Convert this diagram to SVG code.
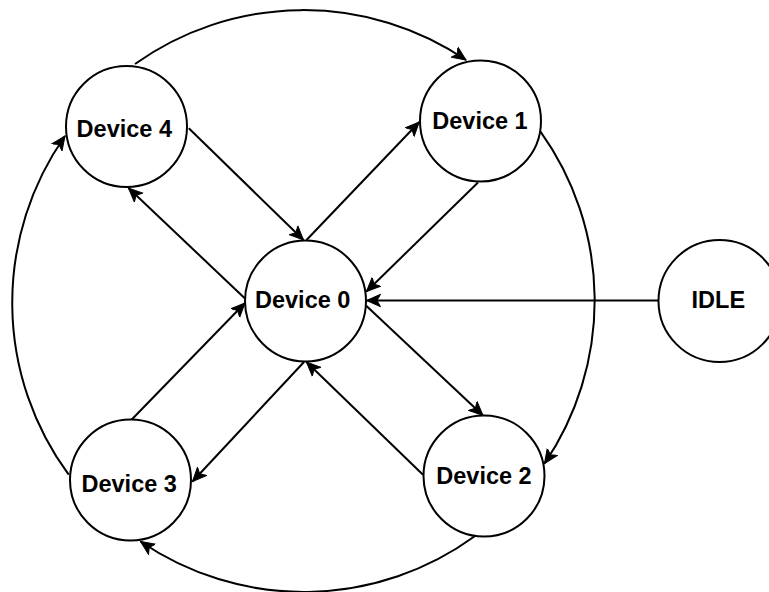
<svg xmlns="http://www.w3.org/2000/svg" width="769" height="592" viewBox="0 0 769 592">
<style>
.node{fill:#fff;stroke:#000;stroke-width:2}
.lbl{font-family:"Liberation Sans",Arial,Helvetica,sans-serif;font-weight:bold;font-size:23.5px;text-anchor:middle;fill:#000}
.edge{fill:none;stroke:#000;stroke-width:2;marker-end:url(#arr)}
</style>
<defs>
<marker id="arr" markerUnits="userSpaceOnUse" markerWidth="18" markerHeight="16" viewBox="0 -8 18 16" refX="14" refY="0" orient="auto">
<path d="M14,0 L0,-6.2 L3.5,0 L0,6.2 Z" fill="#000" stroke="#000" stroke-width="1" stroke-linejoin="miter"/>
</marker>
</defs>
<rect width="769" height="592" fill="#fff"/>
<g id="connectors">
<path class="edge" d="M135,64 A290,290 0 0 1 466,60"/>
<path class="edge" d="M540.5,131.7 A290,290 0 0 1 544.5,463.5"/>
<path class="edge" d="M474.7,536.3 A290,290 0 0 1 140.5,541.5"/>
<path class="edge" d="M68.7,474.7 A290,290 0 0 1 65,136"/>
<path class="edge" d="M188.8,128.3 L303.5,240"/>
<path class="edge" d="M306.5,240 L419.3,122"/>
<path class="edge" d="M478,182.5 L366.5,291.5"/>
<path class="edge" d="M658,300.5 L366.5,300.5"/>
<path class="edge" d="M366.5,306 L483,415.5"/>
<path class="edge" d="M423,474.7 L306.5,362"/>
<path class="edge" d="M304,362 L192.5,481.5"/>
<path class="edge" d="M131.5,419.7 L245,303"/>
<path class="edge" d="M245,298.5 L128.5,188"/>
</g>
<g id="device0"><circle class="node" cx="305.5" cy="301" r="60.5"/><text class="lbl" x="302.7" y="308.3">Device 0</text></g>
<g id="device1"><circle class="node" cx="480.5" cy="121" r="60.5"/><text class="lbl" x="480" y="129.3">Device 1</text></g>
<g id="device2"><circle class="node" cx="484" cy="476" r="60.5"/><text class="lbl" x="484" y="484.3">Device 2</text></g>
<g id="device3"><circle class="node" cx="130.5" cy="480" r="60.5"/><text class="lbl" x="129.2" y="492">Device 3</text></g>
<g id="device4"><circle class="node" cx="126.5" cy="126.5" r="60.5"/><text class="lbl" x="124.3" y="136.7">Device 4</text></g>
<g id="idle"><circle class="node" cx="719.5" cy="301" r="61"/><text class="lbl" x="718.3" y="308.3">IDLE</text></g>
</svg>
